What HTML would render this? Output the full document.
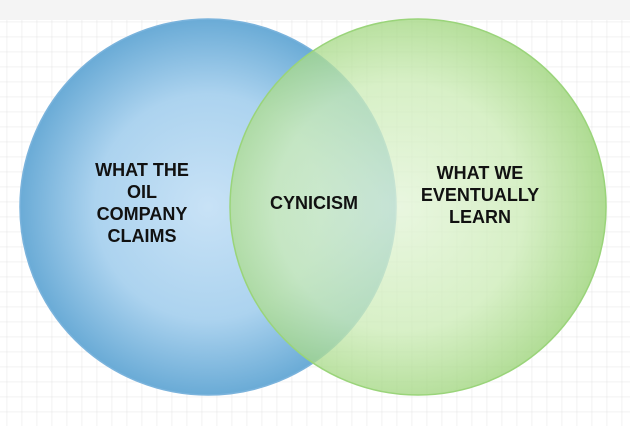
<!DOCTYPE html>
<html><head><meta charset="utf-8"><style>
html,body{margin:0;padding:0;width:630px;height:426px;overflow:hidden;background:#fff}
</style></head><body>
<svg width="630" height="426" viewBox="0 0 630 426" xmlns="http://www.w3.org/2000/svg">
<defs>
<pattern id="g" x="6.7" y="6.7" width="15" height="15" patternUnits="userSpaceOnUse">
<path d="M0 0H15M0 0V15" stroke="#e4e4e4" stroke-width="1" fill="none"/>
</pattern>
<radialGradient id="b" cx="0.5" cy="0.5" r="0.5">
<stop offset="0" stop-color="#c8e2f6"/><stop offset="0.6" stop-color="#acd3ef"/><stop offset="1" stop-color="#6aabd6"/>
</radialGradient>
<radialGradient id="gr" cx="0.45" cy="0.5" r="0.55">
<stop offset="0" stop-color="#e2f4d6"/><stop offset="0.6" stop-color="#cbebb5"/><stop offset="1" stop-color="#95d070"/>
</radialGradient>
</defs>
<rect width="630" height="426" fill="url(#g)"/>
<rect width="630" height="20" fill="#f4f4f4"/>
<circle cx="208" cy="207" r="188" fill="url(#b)" stroke="#7ab3dc" stroke-width="1.5"/>
<circle cx="418" cy="207" r="188" fill="url(#gr)" fill-opacity="0.76" stroke="#9ad47a" stroke-width="1.5"/>
<g font-family="Liberation Sans, sans-serif" font-weight="bold" font-size="18" text-anchor="middle" fill="#111">
<text x="142" y="176">WHAT THE</text>
<text x="142" y="198">OIL</text>
<text x="142" y="220">COMPANY</text>
<text x="142" y="242">CLAIMS</text>
<text x="314" y="209">CYNICISM</text>
<text x="480" y="179">WHAT WE</text>
<text x="480" y="201">EVENTUALLY</text>
<text x="480" y="223">LEARN</text>
</g>
</svg>
</body></html>
